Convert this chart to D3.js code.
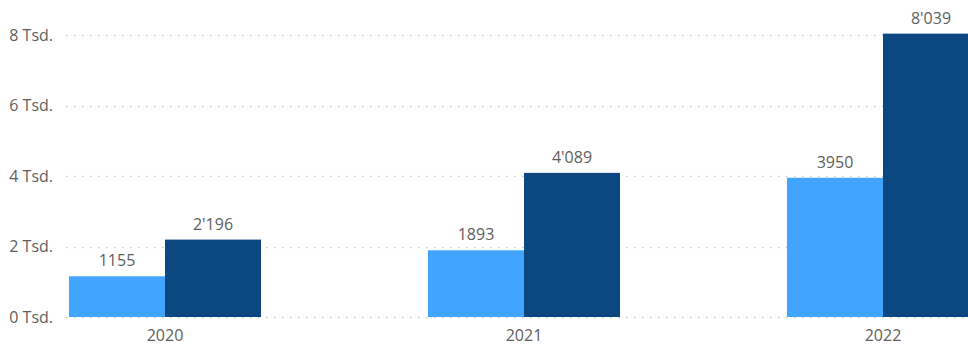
<!DOCTYPE html>
<html>
<head>
<meta charset="utf-8">
<script src="https://cdn.jsdelivr.net/npm/d3@7"></script>
<style>
  html, body { margin: 0; padding: 0; background: #fff; }
  svg { display: block; font-family: "Segoe UI", "Open Sans", "Noto Sans", sans-serif; }
  .tick-label { fill: #605e5c; font-size: 16px; }
  .value-label { fill: #605e5c; font-size: 16px; }
</style>
</head>
<body>
<div id="chart"></div>
<script>
const years = ["2020", "2021", "2022"];
const series = ["a", "b"];
const valuesA = [1155, 1893, 3950];
const valuesB = [2196, 4089, 8039];
const yTicks = [0, 2000, 4000, 6000, 8000];

const width = 968, height = 345;
const colors = { a: "#41A5FF", b: "#0B4780" };

const svg = d3.select("#chart").append("svg")
  .attr("width", width).attr("height", height)
  .attr("viewBox", [0, 0, width, height]);

const y = d3.scaleLinear().domain([0, 8000]).range([317, 35]);
const x0 = d3.scaleBand().domain(years).range([-14.5, 1062.5])
  .paddingInner(0.465).paddingOuter(0.2325);
const x1 = d3.scaleBand().domain(series).range([0, x0.bandwidth()]);

// grid
const grid = svg.append("g");
grid.selectAll("line").data(yTicks).join("line")
  .attr("x1", 66).attr("x2", width)
  .attr("y1", d => Math.round(y(d)) + 0.5).attr("y2", d => Math.round(y(d)) + 0.5)
  .attr("stroke", "#c4c4c4").attr("stroke-width", 1.4)
  .attr("stroke-dasharray", "1.4,6.6");

grid.selectAll("text").data(yTicks).join("text")
  .attr("class", "tick-label")
  .attr("x", 53).attr("y", d => y(d))
  .attr("dy", "0.35em").attr("text-anchor", "end")
  .text(d => `${d / 1000} Tsd.`);

const rows = years.map((yr, i) => ({ year: yr, a: valuesA[i], b: valuesB[i] }));
const groups = svg.append("g").selectAll("g").data(rows).join("g")
  .attr("transform", d => `translate(${x0(d.year)},0)`);

const fmtB = v => d3.format(",")(v).replace(/,/g, "'");

groups.selectAll("rect").data(d => series.map(k => ({ key: k, value: d[k] }))).join("rect")
  .attr("x", d => x1(d.key)).attr("width", x1.bandwidth())
  .attr("y", d => y(d.value)).attr("height", d => y(0) - y(d.value))
  .attr("fill", d => colors[d.key]);

groups.selectAll("text.value-label").data(d => series.map(k => ({ key: k, value: d[k] }))).join("text")
  .attr("class", "value-label")
  .attr("x", d => x1(d.key) + x1.bandwidth() / 2)
  .attr("y", d => y(d.value) - 10)
  .attr("text-anchor", "middle")
  .text(d => d.key === "a" ? String(d.value) : fmtB(d.value));

svg.append("g").selectAll("text").data(years).join("text")
  .attr("class", "tick-label")
  .attr("x", d => x0(d) + x0.bandwidth() / 2)
  .attr("y", 335)
  .attr("dy", "0.35em")
  .attr("text-anchor", "middle")
  .text(d => d);
</script>
</body>
</html>
